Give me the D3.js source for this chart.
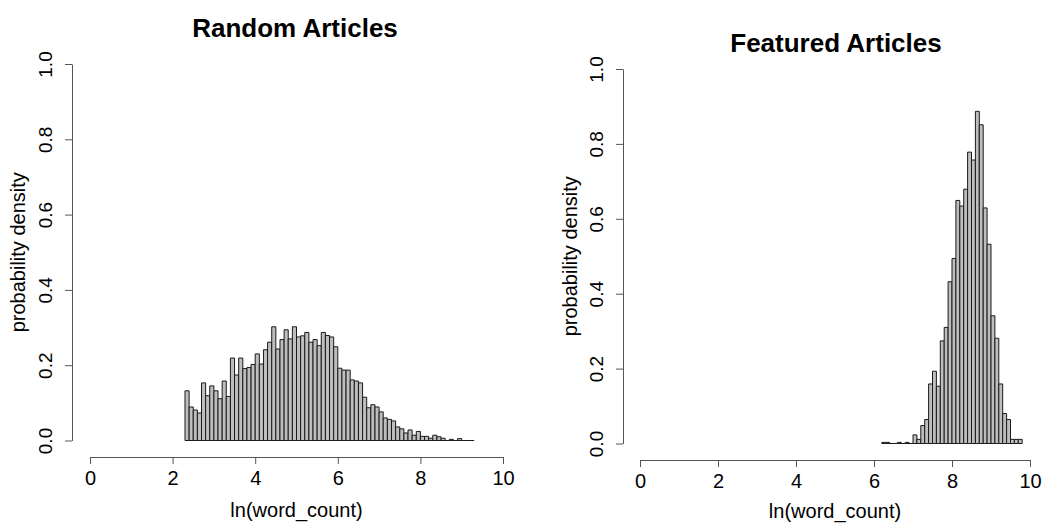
<!DOCTYPE html>
<html>
<head>
<meta charset="utf-8">
<script src="https://cdn.jsdelivr.net/npm/d3@7.9.0/dist/d3.min.js"></script>
<style>
  body { margin: 0; background: #fff; }
  svg { display: block; font-family: "Liberation Sans", Arial, Helvetica, sans-serif; }
</style>
</head>
<body>
<div id="chart"></div>
<script>
// histogram breaks: left edge of first bin and bin width (ln units)
const binWidth = 0.1;
const randomStart = 2.3;
const featuredStart = 6.2;

// probability density per bin
const randomDensity = [
  0.132, 0.089, 0.081, 0.073, 0.153, 0.119, 0.145, 0.132, 0.111, 0.158,
  0.117, 0.219, 0.174, 0.219, 0.191, 0.194, 0.202, 0.230, 0.203, 0.241,
  0.261, 0.302, 0.243, 0.268, 0.294, 0.270, 0.302, 0.275, 0.278, 0.287,
  0.261, 0.268, 0.252, 0.287, 0.279, 0.275, 0.249, 0.192, 0.187, 0.187,
  0.161, 0.158, 0.153, 0.115, 0.087, 0.095, 0.089, 0.076, 0.060, 0.056,
  0.052, 0.036, 0.031, 0.020, 0.028, 0.014, 0.024, 0.011, 0.011, 0.006,
  0.014, 0.010, 0.006, 0.000, 0.003, 0.000, 0.005, 0.000, 0.000, 0.000
];

const featuredDensity = [
  0.003, 0.003, 0.000, 0.000, 0.003, 0.000, 0.003, 0.000, 0.023, 0.011,
  0.048, 0.064, 0.159, 0.193, 0.153, 0.274, 0.310, 0.432, 0.494, 0.649,
  0.634, 0.679, 0.778, 0.757, 0.887, 0.851, 0.629, 0.532, 0.341, 0.281,
  0.159, 0.080, 0.064, 0.011, 0.011, 0.011
];

const xTicks = [0, 2, 4, 6, 8, 10];
const yTicks = [0, 0.2, 0.4, 0.6, 0.8, 1.0];

const width = 1058;
const height = 524;

const svg = d3.select('#chart')
  .append('svg')
  .attr('width', width)
  .attr('height', height);

function toBins(start, values) {
  return values.map((v, i) => ({
    x0: start + i * binWidth,
    x1: start + (i + 1) * binWidth,
    density: v,
  }));
}

function renderPanel(opts) {
  const g = svg.append('g');

  const xScale = d3.scaleLinear().domain([0, 10]).range([opts.x0, opts.x10]);
  const yScale = d3.scaleLinear().domain([0, 1]).range([opts.y0, opts.y1]);

  // bars as closed paths so empty bins still show as a line on the baseline
  g.append('g')
    .selectAll('path')
    .data(toBins(opts.start, opts.values))
    .join('path')
    .attr('d', d => {
      const a = xScale(d.x0), b = xScale(d.x1);
      const base = yScale(0), top = yScale(d.density);
      return `M${a},${base}V${top}H${b}V${base}Z`;
    })
    .attr('fill', '#bebebe')
    .attr('stroke', '#1a1a1a')
    .attr('stroke-width', 1);

  // x axis (R style: ticks downward, no extension past end ticks)
  const xAxis = d3.axisBottom(xScale)
    .tickValues(xTicks)
    .tickSize(7)
    .tickSizeOuter(0)
    .tickPadding(7)
    .tickFormat(d3.format('d'));

  const gx = g.append('g')
    .attr('transform', `translate(0,${opts.xAxisY})`)
    .call(xAxis);
  gx.select('.domain').attr('stroke', '#555');
  gx.selectAll('.tick line').attr('stroke', '#555');
  gx.selectAll('.tick text')
    .attr('font-size', 20)
    .attr('fill', '#000')
    .attr('font-family', null);

  // y axis with labels turned parallel to the axis
  const yAxis = d3.axisLeft(yScale)
    .tickValues(yTicks)
    .tickSize(7)
    .tickSizeOuter(0)
    .tickFormat(d3.format('.1f'));

  const gy = g.append('g')
    .attr('transform', `translate(${opts.yAxisX},0)`)
    .call(yAxis);
  gy.select('.domain').attr('stroke', '#555');
  gy.selectAll('.tick line').attr('stroke', '#555');
  gy.selectAll('.tick text')
    .attr('font-size', 19)
    .attr('fill', '#000')
    .attr('font-family', null)
    .attr('text-anchor', 'middle')
    .attr('x', null)
    .attr('dy', null)
    .attr('transform', 'translate(-20,0) rotate(-90)');

  // titles
  g.append('text')
    .attr('x', opts.titleX)
    .attr('y', opts.titleY)
    .attr('text-anchor', 'middle')
    .attr('font-size', opts.titleSize)
    .attr('font-weight', 'bold')
    .text(opts.title);

  g.append('text')
    .attr('x', (opts.x0 + opts.x10) / 2)
    .attr('y', opts.xTitleY)
    .attr('text-anchor', 'middle')
    .attr('font-size', 20)
    .text('ln(word_count)');

  g.append('text')
    .attr('transform', `translate(${opts.yTitleX},${(opts.y0 + opts.y1) / 2}) rotate(-90)`)
    .attr('text-anchor', 'middle')
    .attr('font-size', 20)
    .text('probability density');
}

renderPanel({
  title: 'Random Articles',
  start: randomStart,
  values: randomDensity,
  x0: 90, x10: 503,
  y0: 440.5, y1: 64,
  xAxisY: 457, yAxisX: 72,
  titleX: 295, titleY: 37, titleSize: 26,
  xTitleY: 517, yTitleX: 25,
});

renderPanel({
  title: 'Featured Articles',
  start: featuredStart,
  values: featuredDensity,
  x0: 640, x10: 1030,
  y0: 443.5, y1: 69,
  xAxisY: 460, yAxisX: 623,
  titleX: 836, titleY: 52, titleSize: 26,
  xTitleY: 518, yTitleX: 577,
});
</script>
</body>
</html>
